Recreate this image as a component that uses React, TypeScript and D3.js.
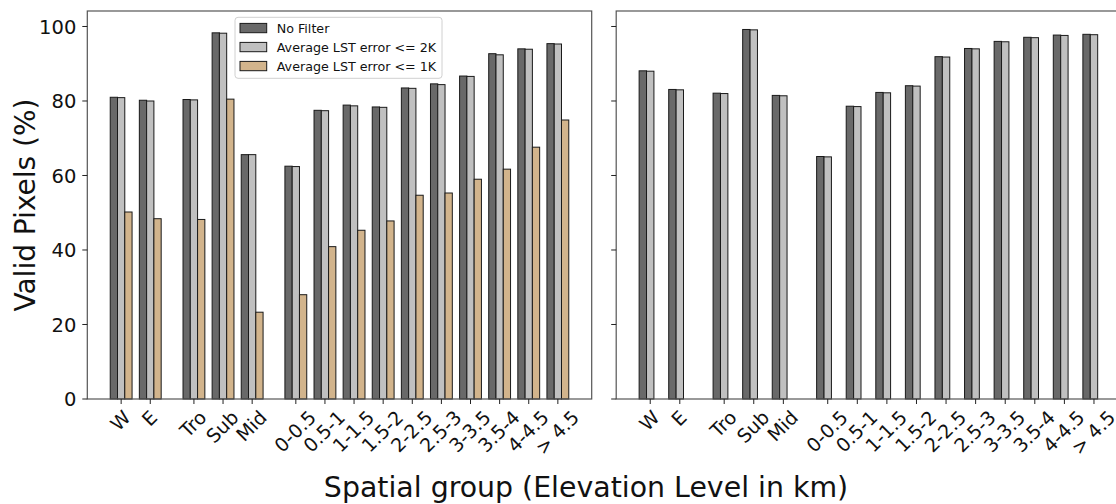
import React, { useEffect, useRef } from "react";
import * as d3 from "d3";

// Spatial groups and their slot positions along the x axis (gaps between group kinds)
const categories = ["W", "E", "Tro", "Sub", "Mid", "0-0.5", "0.5-1", "1-1.5", "1.5-2", "2-2.5", "2.5-3", "3-3.5", "3.5-4", "4-4.5", "> 4.5"];
const positions = [0, 1, 2.5, 3.5, 4.5, 6, 7, 8, 9, 10, 11, 12, 13, 14, 15];

// Left panel: valid pixel share (%) per filter
const leftNoFilter = [81.0, 80.2, 80.4, 98.3, 65.6, 62.5, 77.5, 78.9, 78.4, 83.5, 84.6, 86.7, 92.7, 94.0, 95.4];
const leftErr2K = [80.9, 80.0, 80.3, 98.2, 65.6, 62.4, 77.4, 78.7, 78.3, 83.4, 84.4, 86.6, 92.4, 93.9, 95.3];
const leftErr1K = [50.2, 48.4, 48.2, 80.5, 23.3, 28.0, 40.9, 45.3, 47.8, 54.7, 55.3, 59.0, 61.7, 67.6, 74.9];

// Right panel: valid pixel share (%) per filter
const rightNoFilter = [88.1, 83.1, 82.1, 99.2, 81.5, 65.1, 78.6, 82.3, 84.1, 91.9, 94.1, 96.0, 97.1, 97.7, 97.9];
const rightErr2K = [88.0, 83.0, 82.0, 99.1, 81.4, 65.0, 78.5, 82.2, 84.0, 91.8, 94.0, 95.9, 97.0, 97.6, 97.8];

const seriesNames = ["No Filter", "Average LST error <= 2K", "Average LST error <= 1K"];
const seriesColors = ["#696969", "#c0c0c0", "#d2b48c"];
const yTicks = [0, 20, 40, 60, 80, 100];

const FONT = "DejaVu Sans, sans-serif";
const BAR_W = 0.25;

export default function App() {
  const ref = useRef<SVGSVGElement | null>(null);

  useEffect(() => {
    const svg = d3.select(ref.current);
    svg.selectAll("*").remove();

    const top = 11;
    const bottom = 399;
    const panelW = 504.4;
    const yMax = d3.max([...leftNoFilter, ...leftErr2K, ...leftErr1K, ...rightNoFilter, ...rightErr2K]) as number * 1.05;
    const y = d3.scaleLinear().domain([0, yMax]).range([bottom, top]);

    const panels = [
      { left: 87.3, series: [leftNoFilter, leftErr2K, leftErr1K], labels: true, legend: true },
      { left: 616.2, series: [rightNoFilter, rightErr2K], labels: false, legend: false },
    ];

    panels.forEach((p) => {
      const n = p.series.length;
      const offsets = d3.range(n).map((i) => (i - 1) * BAR_W);
      const lo = d3.min(positions)! + offsets[0] - BAR_W / 2;
      const hi = d3.max(positions)! + offsets[n - 1] + BAR_W / 2;
      const m = (hi - lo) * 0.05;
      const x = d3.scaleLinear().domain([lo - m, hi + m]).range([p.left, p.left + panelW]);
      const g = svg.append("g");

      p.series.forEach((vals, si) => {
        g.selectAll(null)
          .data(vals)
          .enter()
          .append("rect")
          .attr("x", (_, i) => x(positions[i] + offsets[si] - BAR_W / 2))
          .attr("width", x(BAR_W) - x(0))
          .attr("y", (d) => y(d))
          .attr("height", (d) => y(0) - y(d))
          .attr("fill", seriesColors[si])
          .attr("stroke", "#1a1a1a")
          .attr("stroke-width", 1);
      });

      // frame
      g.append("rect")
        .attr("x", p.left)
        .attr("y", top)
        .attr("width", panelW)
        .attr("height", bottom - top)
        .attr("fill", "none")
        .attr("stroke", "#555")
        .attr("stroke-width", 1.2);

      // y ticks
      yTicks.forEach((t) => {
        g.append("line")
          .attr("x1", p.left - 5)
          .attr("x2", p.left)
          .attr("y1", y(t))
          .attr("y2", y(t))
          .attr("stroke", "#222")
          .attr("stroke-width", 1);
        if (p.labels) {
          g.append("text")
            .attr("x", p.left - 11)
            .attr("y", y(t))
            .attr("dy", "0.36em")
            .attr("text-anchor", "end")
            .attr("font-family", FONT)
            .attr("font-size", 19.5)
            .attr("fill", "#111")
            .text(String(t));
        }
      });

      // x ticks and rotated labels
      positions.forEach((pos, i) => {
        const cx = x(pos);
        g.append("line")
          .attr("x1", cx)
          .attr("x2", cx)
          .attr("y1", bottom)
          .attr("y2", bottom + 5)
          .attr("stroke", "#222")
          .attr("stroke-width", 1);
        const fs = 19;
        const t = g.append("text")
          .attr("text-anchor", "middle")
          .attr("font-family", FONT)
          .attr("font-size", fs)
          .attr("fill", "#111")
          .text(categories[i]);
        const len = (t.node() as SVGTextElement).getComputedTextLength();
        const h = fs * 1.0;
        const side = (len + h) * Math.SQRT1_2;
        const cy = bottom + 9 + side / 2;
        t.attr("transform", `translate(${cx},${cy}) rotate(-45)`).attr("dy", "0.3em");
      });

      if (p.legend) {
        const lg = svg.append("g");
        lg.append("rect")
          .attr("x", 235)
          .attr("y", 17.3)
          .attr("width", 207)
          .attr("height", 61)
          .attr("rx", 3)
          .attr("fill", "white")
          .attr("fill-opacity", 0.85)
          .attr("stroke", "#d0d0d0")
          .attr("stroke-width", 1);
        seriesNames.forEach((name, i) => {
          const cy = 28 + i * 19;
          lg.append("rect")
            .attr("x", 240)
            .attr("y", cy - 4.6)
            .attr("width", 26.7)
            .attr("height", 9.3)
            .attr("fill", seriesColors[i])
            .attr("stroke", "#1a1a1a")
            .attr("stroke-width", 1);
          lg.append("text")
            .attr("x", 276.7)
            .attr("y", cy)
            .attr("dy", "0.36em")
            .attr("font-family", FONT)
            .attr("font-size", 12.7)
            .attr("fill", "#111")
            .text(name);
        });
      }
    });

    // axis titles
    svg.append("text")
      .attr("transform", `translate(25,${(top + bottom) / 2}) rotate(-90)`)
      .attr("text-anchor", "middle")
      .attr("dy", "0.35em")
      .attr("font-family", FONT)
      .attr("font-size", 28)
      .attr("fill", "#111")
      .text("Valid Pixels (%)");

    svg.append("text")
      .attr("x", 586)
      .attr("y", 497)
      .attr("text-anchor", "middle")
      .attr("font-family", FONT)
      .attr("font-size", 28.4)
      .attr("fill", "#111")
      .text("Spatial group (Elevation Level in km)");
  }, []);

  return (
    <svg
      ref={ref}
      width={1116}
      height={504}
      style={{ position: "absolute", left: 0, top: 0, background: "white" }}
    />
  );
}
